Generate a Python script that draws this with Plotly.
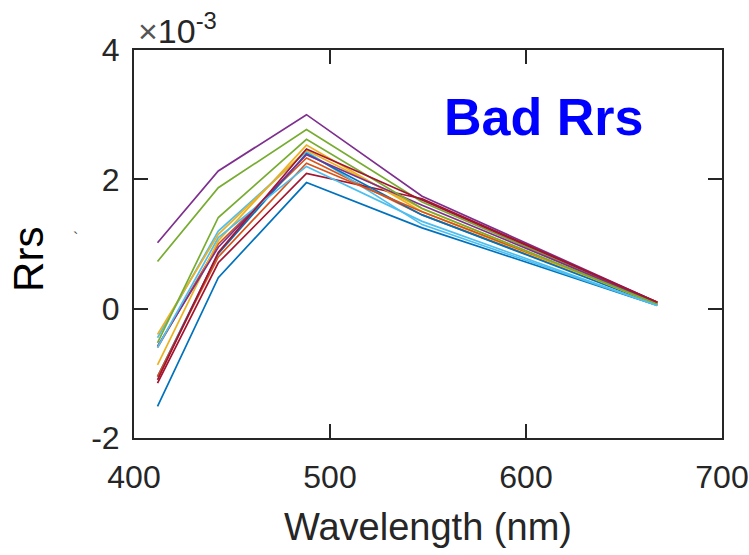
import plotly.graph_objects as go

wavelengths = [412, 443, 488, 547, 667]

# Rrs spectra (units of 1e-3 sr^-1)
rrs_01 = [-1.51, 0.48, 1.95, 1.25, 0.05]
rrs_02 = [-0.60, 1.00, 2.33, 1.45, 0.08]
rrs_03 = [-0.87, 1.05, 2.53, 1.50, 0.07]
rrs_04 = [1.02, 2.13, 3.00, 1.74, 0.10]
rrs_05 = [0.73, 1.87, 2.77, 1.65, 0.08]
rrs_06 = [-0.45, 1.20, 2.43, 1.30, 0.05]
rrs_07 = [-1.15, 0.71, 2.09, 1.70, 0.10]
rrs_08 = [-1.05, 0.85, 2.40, 1.45, 0.06]
rrs_09 = [-1.05, 0.80, 2.25, 1.50, 0.10]
rrs_10 = [-0.40, 1.15, 2.45, 1.55, 0.06]
rrs_11 = [-0.58, 0.95, 2.38, 1.60, 0.09]
rrs_12 = [-0.53, 1.41, 2.62, 1.55, 0.07]
rrs_13 = [-0.60, 1.10, 2.20, 1.35, 0.05]
rrs_14 = [-1.10, 0.87, 2.47, 1.68, 0.10]

series = [rrs_01, rrs_02, rrs_03, rrs_04, rrs_05, rrs_06, rrs_07,
          rrs_08, rrs_09, rrs_10, rrs_11, rrs_12, rrs_13, rrs_14]

colors = ['#0072BD', '#D95319', '#EDB120', '#7E2F8E', '#77AC30', '#4DBEEE', '#A2142F']

x_ticks = [400, 500, 600, 700]
x_tick_text = ['400', '500', '600', '700']
y_ticks = [-2, 0, 2, 4]
y_tick_text = ['-2', '0', '2', '4']

fig = go.Figure()
for i, s in enumerate(series):
    fig.add_trace(go.Scatter(
        x=wavelengths, y=s, mode='lines',
        line=dict(color=colors[i % len(colors)], width=1.7),
        showlegend=False, hoverinfo='skip'))

axis_col = '#262626'
fig.update_layout(
    width=749, height=555,
    margin=dict(l=134, r=27, t=50, b=117),
    paper_bgcolor='white', plot_bgcolor='white',
    font=dict(family='Liberation Sans, Arial, sans-serif', color=axis_col),
    xaxis=dict(range=[400, 700], tickvals=x_ticks, ticktext=x_tick_text,
               ticks='inside', ticklen=14, automargin=False,
               ticklabeloverflow='allow', ticklabelstandoff=10,
               tickwidth=2, tickcolor=axis_col, showline=True, linecolor=axis_col,
               linewidth=2, mirror='ticks', showgrid=False, zeroline=False,
               tickfont=dict(size=32, color=axis_col),
               title=dict(text='Wavelength (nm)', font=dict(size=38, color=axis_col),
                          standoff=19)),
    yaxis=dict(range=[-2, 4], tickvals=y_ticks, ticktext=y_tick_text,
               ticks='inside', ticklen=14, automargin=False,
               ticklabeloverflow='allow', ticklabelstandoff=6,
               tickwidth=2, tickcolor=axis_col, showline=True, linecolor=axis_col,
               linewidth=2, mirror='ticks', showgrid=False, zeroline=False,
               tickfont=dict(size=32, color=axis_col)),
)

fig.add_annotation(xref='paper', yref='paper', x=0.0, y=0.459, xanchor='center', yanchor='middle',
                   xshift=-105, text='Rrs', textangle=-90, showarrow=False,
                   font=dict(size=42, color='black'))
fig.add_annotation(xref='paper', yref='paper', x=0.0, y=1.0, xanchor='left', yanchor='bottom',
                   text='<span style="color:#555555">×</span>10<sup>-3</sup>', showarrow=False,
                   xshift=2, yshift=-2,
                   font=dict(size=34, color=axis_col))
fig.add_annotation(xref='x', yref='y', x=609, y=2.96, xanchor='center', yanchor='middle',
                   text='<b>Bad Rrs</b>', showarrow=False,
                   font=dict(size=52, color='#0000FF'))
fig.add_annotation(xref='paper', yref='paper', x=-0.1, y=0.515, xanchor='center', yanchor='middle',
                   text='`', showarrow=False, font=dict(size=16, color='#555555'))

fig.write_html('out.html', config={'displayModeBar': False},
               post_script="document.body.style.margin='0';document.body.style.overflow='hidden';")
